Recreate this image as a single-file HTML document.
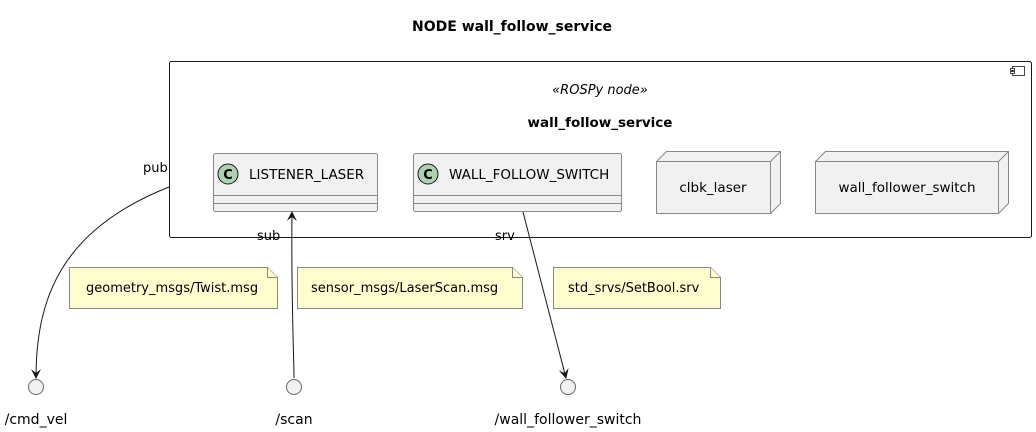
<!DOCTYPE html>
<html><head><meta charset="utf-8"><style>
html,body{margin:0;padding:0;background:#fff}
svg{display:block;font-family:"DejaVu Sans","Liberation Sans",sans-serif}
</style></head><body>
<svg width="1036" height="432" viewBox="0 0 1036 432" xmlns="http://www.w3.org/2000/svg">
<defs><marker id="a" markerWidth="12" markerHeight="12" refX="10" refY="6" orient="auto" markerUnits="userSpaceOnUse" viewBox="0 0 12 12"><path d="M1,1 L11,6 L1,11 L5,6 Z" fill="#181818"/></marker></defs>
<text x="512" y="31" text-anchor="middle" font-size="14" font-weight="bold">NODE wall_follow_service</text>
<rect x="169.5" y="61.5" width="862" height="176" rx="2" fill="#fff" stroke="#181818"/>
<rect x="1012.5" y="66.5" width="12" height="9" fill="#fff" stroke="#181818" stroke-width="0.8"/>
<rect x="1010.5" y="68.5" width="4" height="2" fill="#fff" stroke="#181818" stroke-width="0.8"/>
<rect x="1010.5" y="71.5" width="4" height="2" fill="#fff" stroke="#181818" stroke-width="0.8"/>
<text x="600" y="94" text-anchor="middle" font-size="13" font-style="italic">«ROSPy node»</text>
<text x="600" y="127" text-anchor="middle" font-size="13.5" font-weight="bold">wall_follow_service</text>
<g stroke="#888" fill="#f1f1f1">
<rect x="213.5" y="153.5" width="164" height="58" rx="2"/>
<line x1="213.5" y1="195.5" x2="377.5" y2="195.5"/><line x1="213.5" y1="203.5" x2="377.5" y2="203.5"/>
<rect x="413.5" y="153.5" width="208" height="58" rx="2"/>
<line x1="413.5" y1="195.5" x2="621.5" y2="195.5"/><line x1="413.5" y1="203.5" x2="621.5" y2="203.5"/>
</g>
<circle cx="228" cy="174" r="10" fill="#add1b2" stroke="#181818"/>
<text x="228" y="179" text-anchor="middle" font-size="13" font-weight="bold">C</text>
<text x="249" y="179" font-size="13.5">LISTENER_LASER</text>
<circle cx="428" cy="174" r="10" fill="#add1b2" stroke="#181818"/>
<text x="428" y="179" text-anchor="middle" font-size="13" font-weight="bold">C</text>
<text x="449" y="179" font-size="13.5">WALL_FOLLOW_SWITCH</text>
<g stroke="#888" fill="#f1f1f1">
<path d="M656.5,161.5 L666.5,151.5 L780.5,151.5 L780.5,203.5 L770.5,213.5 Z"/>
<rect x="656.5" y="161.5" width="114" height="52"/>
<line x1="770.5" y1="161.5" x2="780.5" y2="151.5"/>
<path d="M815.5,161.5 L825.5,151.5 L1008.5,151.5 L1008.5,203.5 L998.5,213.5 Z"/>
<rect x="815.5" y="161.5" width="183" height="52"/>
<line x1="998.5" y1="161.5" x2="1008.5" y2="151.5"/>
</g>
<text x="713" y="192" text-anchor="middle" font-size="13.5">clbk_laser</text>
<text x="907" y="192" text-anchor="middle" font-size="13.5">wall_follower_switch</text>
<g stroke="#888" fill="#fefece">
<path d="M69.5,267.5 L267.5,267.5 L277.5,277.5 L277.5,308.5 L69.5,308.5 Z"/>
<path d="M267.5,267.5 L267.5,277.5 L277.5,277.5"/>
<path d="M297.5,267.5 L512.5,267.5 L522.5,277.5 L522.5,308.5 L297.5,308.5 Z"/>
<path d="M512.5,267.5 L512.5,277.5 L522.5,277.5"/>
<path d="M553.5,267.5 L710.5,267.5 L720.5,277.5 L720.5,308.5 L553.5,308.5 Z"/>
<path d="M710.5,267.5 L710.5,277.5 L720.5,277.5"/>
</g>
<text x="86" y="292" font-size="13">geometry_msgs/Twist.msg</text>
<text x="311" y="292" font-size="13">sensor_msgs/LaserScan.msg</text>
<text x="568" y="292" font-size="13">std_srvs/SetBool.srv</text>
<g fill="none" stroke="#181818">
<path d="M169,187 C60,230 36,300 36,378" marker-end="url(#a)"/>
<path d="M294,378 C294,360 291,290 292,212" marker-end="url(#a)"/>
<path d="M523,212 L566,378" marker-end="url(#a)"/>
</g>
<text x="143" y="172" font-size="13">pub</text>
<text x="257" y="240" font-size="13">sub</text>
<text x="495" y="240" font-size="13">srv</text>
<g fill="#f1f1f1" stroke="#666">
<circle cx="36" cy="387" r="7.5"/><circle cx="294" cy="387" r="7.5"/><circle cx="568" cy="387" r="7.5"/>
</g>
<text x="36" y="424" text-anchor="middle" font-size="14">/cmd_vel</text>
<text x="294" y="424" text-anchor="middle" font-size="14">/scan</text>
<text x="568" y="424" text-anchor="middle" font-size="14">/wall_follower_switch</text>
</svg>
</body></html>
